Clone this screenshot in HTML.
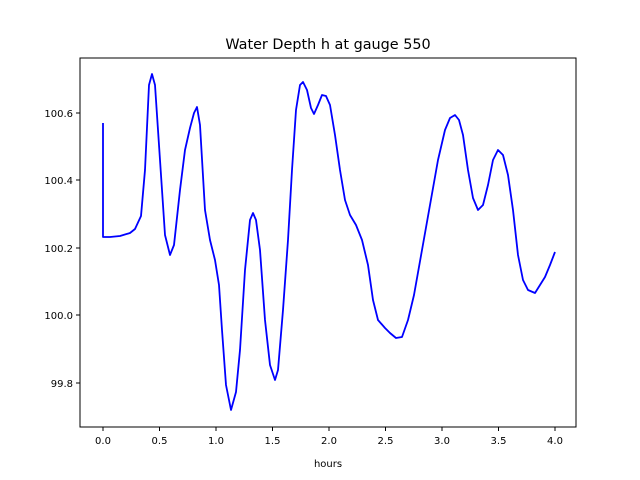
<!DOCTYPE html>
<html><head><meta charset="utf-8"><style>body{margin:0;background:#fff}svg{display:block}text{font-family:"DejaVu Sans","Liberation Sans",sans-serif;font-size:10px;fill:#000}</style></head><body>
<svg width="640" height="480" xmlns="http://www.w3.org/2000/svg">
<rect width="640" height="480" fill="#fff"/>
<text x="328" y="49" text-anchor="middle" style="font-size:14.4px">Water Depth h at gauge 550</text>
<polyline fill="none" stroke="#0000ff" stroke-width="1.8" stroke-linejoin="round" points="103,123 103,237 110,237 120,236 130,233 135,229 141,216 145,170 149,85 152,74 155,85 160,160 165,235 170,255 174,245 180,190 185,150 190,128 194,113 197,107 200,125 205,210 210,240 215,260 219,285 222,330 226,385 231,410 236,392 240,350 245,270 250,220 253,213 256,220 260,250 265,320 270,365 275,380 278,370 283,310 288,240 292,170 296,110 300,85 303,82 307,90 311,108 314,114 318,105 322,95 326,96 330,105 335,135 340,170 345,200 350,215 356,225 362,240 368,265 373,300 378,320 385,328 390,333 396,338 402,337 408,320 414,295 422,250 430,205 438,160 445,130 450,118 455,115 459,120 463,135 468,170 473,198 478,210 483,205 488,185 493,160 498,150 503,155 508,175 513,210 518,255 523,280 528,290 535,293 540,285 545,277 550,265 555,252"/>
<rect x="80" y="58" width="496" height="369" fill="none" stroke="#000" stroke-width="1"/>
<g stroke="#000">
<line x1="103" y1="427" x2="103" y2="431"/><line x1="159.5" y1="427" x2="159.5" y2="431"/><line x1="216" y1="427" x2="216" y2="431"/><line x1="272.5" y1="427" x2="272.5" y2="431"/><line x1="329" y1="427" x2="329" y2="431"/><line x1="385.5" y1="427" x2="385.5" y2="431"/><line x1="442" y1="427" x2="442" y2="431"/><line x1="498.5" y1="427" x2="498.5" y2="431"/><line x1="555" y1="427" x2="555" y2="431"/>
<line x1="76" y1="383" x2="80" y2="383"/><line x1="76" y1="315" x2="80" y2="315"/><line x1="76" y1="248" x2="80" y2="248"/><line x1="76" y1="180" x2="80" y2="180"/><line x1="76" y1="113" x2="80" y2="113"/>
</g>
<g text-anchor="middle">
<text x="103" y="444">0.0</text><text x="159.5" y="444">0.5</text><text x="216" y="444">1.0</text><text x="272.5" y="444">1.5</text><text x="329" y="444">2.0</text><text x="385.5" y="444">2.5</text><text x="442" y="444">3.0</text><text x="498.5" y="444">3.5</text><text x="555" y="444">4.0</text>
<text x="328" y="467">hours</text>
</g>
<g text-anchor="end">
<text x="73" y="387">99.8</text><text x="73" y="319">100.0</text><text x="73" y="252">100.2</text><text x="73" y="184">100.4</text><text x="73" y="117">100.6</text>
</g>
</svg>
</body></html>
